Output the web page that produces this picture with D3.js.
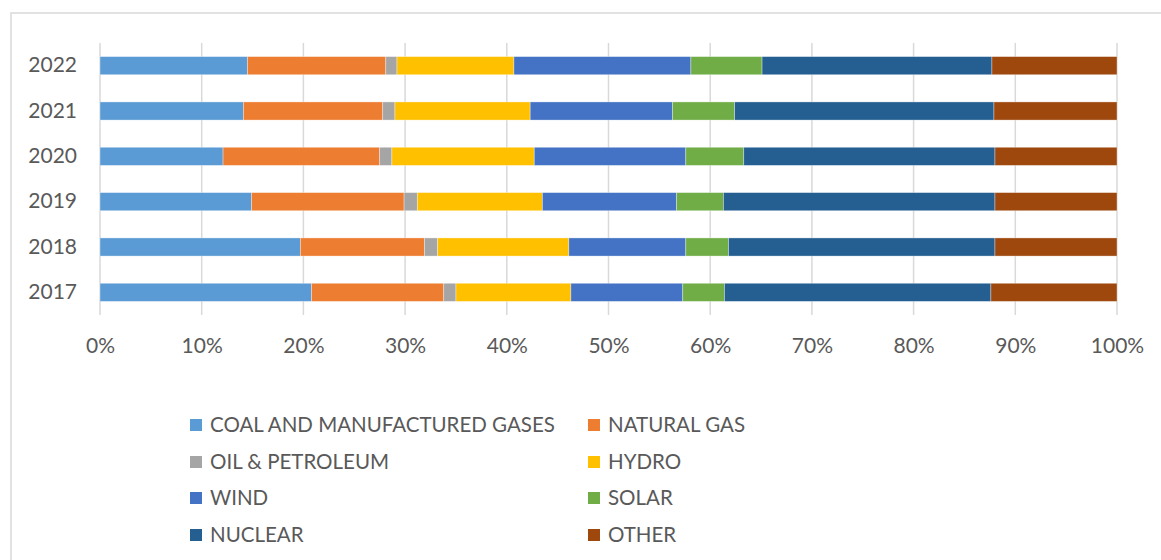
<!DOCTYPE html>
<html>
<head>
<meta charset="utf-8">
<script src="https://cdn.jsdelivr.net/npm/d3@7"></script>
<style>
  html, body { margin: 0; padding: 0; background: #fff; }
  svg { display: block; font-family: Lato, "Open Sans", sans-serif; }
</style>
</head>
<body>
<svg id="chart" width="1161" height="560"></svg>
<script>
const years = ["2017", "2018", "2019", "2020", "2021", "2022"];
const seriesNames = ["COAL AND MANUFACTURED GASES", "NATURAL GAS", "OIL & PETROLEUM", "HYDRO", "WIND", "SOLAR", "NUCLEAR", "OTHER"];
const seriesColors = ["#5B9BD5", "#ED7D31", "#A5A5A5", "#FFC000", "#4472C4", "#70AD47", "#255E91", "#9E480E"];
// shares in percent, per year (2017..2022)
const coal    = [20.8, 19.7, 14.9, 12.1, 14.1, 14.5];
const natGas  = [13.0, 12.2, 15.0, 15.4, 13.7, 13.6];
const oil     = [1.2, 1.3, 1.3, 1.2, 1.2, 1.1];
const hydro   = [11.3, 12.9, 12.3, 14.0, 13.3, 11.5];
const wind    = [11.0, 11.5, 13.2, 14.9, 14.0, 17.4];
const solar   = [4.1, 4.2, 4.6, 5.7, 6.1, 7.0];
const nuclear = [26.2, 26.2, 26.7, 24.7, 25.5, 22.6];
const other   = [12.4, 12.0, 12.0, 12.0, 12.1, 12.3];
const xTicks = [0, 0.1, 0.2, 0.3, 0.4, 0.5, 0.6, 0.7, 0.8, 0.9, 1.0];

const seriesValues = [coal, natGas, oil, hydro, wind, solar, nuclear, other];
const rows = years.map((y, i) => {
  const r = { year: y };
  seriesNames.forEach((s, k) => r[s] = seriesValues[k][i]);
  return r;
});
const stacked = d3.stack().keys(seriesNames).offset(d3.stackOffsetExpand)(rows);

const svg = d3.select("#chart");
const textColor = "#595959";
const gridColor = "#D9D9D9";

// outer frame
svg.append("rect").attr("x", 11).attr("y", 13).attr("width", 1170).attr("height", 600)
  .attr("fill", "none").attr("stroke", gridColor).attr("stroke-width", 1.5);

const x = d3.scaleLinear().domain([0, 1]).range([100, 1117]);
const y = d3.scaleBand().domain(years.slice().reverse()).range([43, 315])
  .paddingInner(0.6).paddingOuter(0.3);

// gridlines
svg.append("g").selectAll("line").data(xTicks).join("line")
  .attr("x1", d => x(d)).attr("x2", d => x(d))
  .attr("y1", 43).attr("y2", 315)
  .attr("stroke", gridColor).attr("stroke-width", 1.5);

// bars
svg.append("g").selectAll("g").data(stacked).join("g")
  .attr("fill", (d, i) => seriesColors[i])
  .selectAll("rect").data(d => d).join("rect")
  .attr("x", d => x(d[0])).attr("width", d => x(d[1]) - x(d[0]))
  .attr("y", d => y(d.data.year)).attr("height", y.bandwidth())
  .attr("stroke", "#ffffff").attr("stroke-opacity", 0.45).attr("stroke-width", 0.75);

// x axis labels
const xAxis = d3.axisBottom(x).tickValues(xTicks).tickFormat(d3.format(".0%")).tickSize(0).tickPadding(0);
const gx = svg.append("g").attr("transform", "translate(0,338)").call(xAxis);
gx.select(".domain").remove();
gx.selectAll("text").attr("fill", textColor).attr("font-size", 21)
  .attr("font-family", "Lato, sans-serif").attr("dy", "0.71em");

// y axis labels
const yAxis = d3.axisLeft(y).tickSize(0).tickPadding(0);
const gy = svg.append("g").attr("transform", "translate(77,0)").call(yAxis);
gy.select(".domain").remove();
gy.selectAll("text").attr("fill", textColor).attr("font-size", 21)
  .attr("font-family", "Lato, sans-serif");

// legend
const legX = [190, 588];
const legY = [425, 462, 498, 535];
const leg = svg.append("g").selectAll("g").data(seriesNames).join("g")
  .attr("transform", (d, i) => `translate(${legX[i % 2]},${legY[Math.floor(i / 2)]})`);
leg.append("rect").attr("x", 0).attr("y", -6).attr("width", 12).attr("height", 12)
  .attr("fill", (d, i) => seriesColors[i]);
leg.append("text").attr("x", 20).attr("y", 0).attr("dy", "0.36em")
  .attr("fill", textColor).attr("font-size", 20.5).attr("font-family", "Lato, sans-serif")
  .text(d => d);
</script>
</body>
</html>
